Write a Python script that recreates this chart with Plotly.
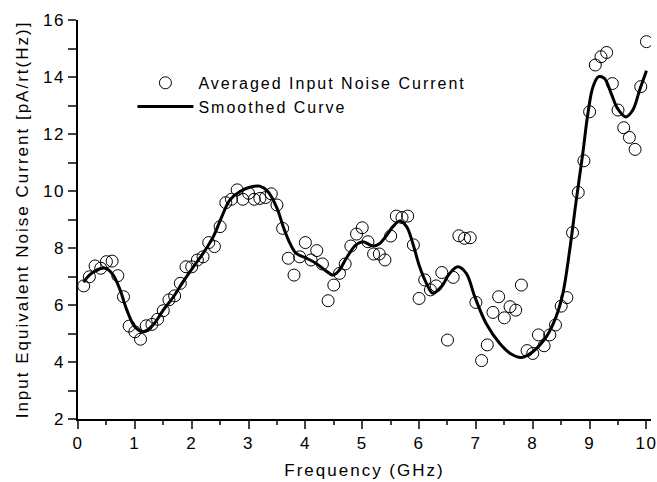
import plotly.graph_objects as go

freq = [round(0.1 * i, 1) for i in range(1, 101)]
noise = [6.67, 6.99, 7.37, 7.29, 7.52, 7.54, 7.03, 6.29, 5.26, 5.06,
         4.80, 5.27, 5.32, 5.50, 5.80, 6.18, 6.32, 6.76, 7.34, 7.34,
         7.58, 7.69, 8.19, 8.05, 8.75, 9.59, 9.71, 10.04, 9.71, 9.92,
         9.71, 9.74, 9.77, 9.90, 9.51, 8.69, 7.64, 7.05, 7.69, 8.19,
         7.58, 7.91, 7.44, 6.15, 6.70, 7.11, 7.44, 8.07, 8.49, 8.71,
         8.22, 7.79, 7.79, 7.58, 8.42, 9.12, 9.07, 9.12, 8.11, 6.23,
         6.88, 6.53, 6.67, 7.14, 4.77, 6.97, 8.43, 8.34, 8.36, 6.09,
         4.05, 4.60, 5.74, 6.29, 5.55, 5.94, 5.82, 6.70, 4.40, 4.30,
         4.95, 4.57, 4.95, 5.30, 5.96, 6.26, 8.54, 9.95, 11.06, 12.78,
         14.42, 14.71, 14.86, 13.77, 12.84, 12.22, 11.88, 11.46, 13.66, 15.24]

smooth_x = [0.1, 0.2, 0.4, 0.5, 0.62, 0.74, 0.86, 1.0, 1.15, 1.32, 1.5, 1.68, 1.85,
            2.03, 2.2, 2.38, 2.53, 2.67, 2.85, 3.02, 3.2, 3.34, 3.5, 3.61, 3.73,
            3.84, 4.02, 4.19, 4.34, 4.49, 4.6, 4.72, 4.89, 5.01, 5.19, 5.31, 5.42,
            5.54, 5.66, 5.78, 5.89, 6.01, 6.13, 6.24, 6.39, 6.54, 6.68, 6.83, 6.98,
            7.18, 7.42, 7.62, 7.8, 8.0, 8.24, 8.41, 8.53, 8.65, 8.76, 8.88, 8.97,
            9.06, 9.16, 9.26, 9.38, 9.49, 9.64, 9.76, 9.88, 10.0]
smooth_y = [6.8, 7.05, 7.28, 7.28, 7.05, 6.53, 5.82, 5.24, 5.06, 5.3, 5.82, 6.29, 6.82,
            7.34, 7.81, 8.4, 9.1, 9.68, 9.98, 10.13, 10.17, 9.98, 9.4, 8.75, 8.16,
            7.81, 7.64, 7.46, 7.23, 7.05, 7.23, 7.64, 8.11, 8.22, 8.07, 8.16, 8.42,
            8.75, 8.95, 8.75, 8.16, 7.34, 6.76, 6.41, 6.64, 7.11, 7.34, 7.11, 6.29,
            5.35, 4.65, 4.28, 4.16, 4.36, 4.89, 5.59, 6.41, 7.93, 9.6, 11.32, 12.72,
            13.66, 14.01, 13.95, 13.42, 12.9, 12.6, 12.84, 13.54, 14.22]

x_ticks = list(range(0, 11))
y_ticks = [2, 4, 6, 8, 10, 12, 14, 16]

FONT = "Liberation Sans, Arial, sans-serif"


def spaced(text, px):
    return f'<span style="letter-spacing:{px}px">{text}</span>'


fig = go.Figure()
fig.add_trace(go.Scatter(
    x=freq, y=noise, mode="markers", name=spaced("Averaged Input Noise Current", 2),
    marker=dict(symbol="circle-open", size=12, color="black", line=dict(width=1, color="black")),
))
fig.add_trace(go.Scatter(
    x=smooth_x, y=smooth_y, mode="lines", name=spaced("Smoothed Curve", 2),
    line=dict(color="black", width=3, shape="spline", smoothing=1.0),
))

fig.update_layout(
    width=657, height=482,
    margin=dict(l=78, r=6, t=20, b=63),
    paper_bgcolor="white", plot_bgcolor="white",
    font=dict(family=FONT, size=16, color="black"),
    showlegend=True,
    legend=dict(x=0.095, y=0.885, xanchor="left", yanchor="top",
                bgcolor="rgba(0,0,0,0)", font=dict(family=FONT, size=16),
                itemwidth=56, tracegroupgap=0),
)
fig.update_xaxes(
    range=[0, 10.08], tickvals=x_ticks, ticktext=[spaced(str(v), 1.5) for v in x_ticks],
    ticks="outside", ticklen=8, tickwidth=1.5, automargin=False, ticklabeloverflow="allow",
    showline=True, linecolor="black", linewidth=1.5, showgrid=False, zeroline=False,
    minor=dict(dtick=0.5, ticks="outside", ticklen=4, tickwidth=1.5, showgrid=False),
    title=dict(text=spaced("Frequency (GHz)", 2), font=dict(family=FONT, size=17), standoff=12),
    tickfont=dict(family=FONT, size=17),
)
fig.update_yaxes(
    range=[2, 16], tickvals=y_ticks, ticktext=[spaced(str(v), 1.5) for v in y_ticks],
    ticks="outside", ticklen=8, tickwidth=1.5, automargin=False, ticklabeloverflow="allow",
    showline=True, linecolor="black", linewidth=1.5, showgrid=False, zeroline=False,
    minor=dict(dtick=1, ticks="outside", ticklen=8, tickwidth=1.5, showgrid=False),
    title=dict(text=spaced("Input Equivalent Noise Current [pA/rt(Hz)]", 2),
               font=dict(family=FONT, size=17), standoff=10),
    tickfont=dict(family=FONT, size=17),
)

fig.write_html("out.html")
